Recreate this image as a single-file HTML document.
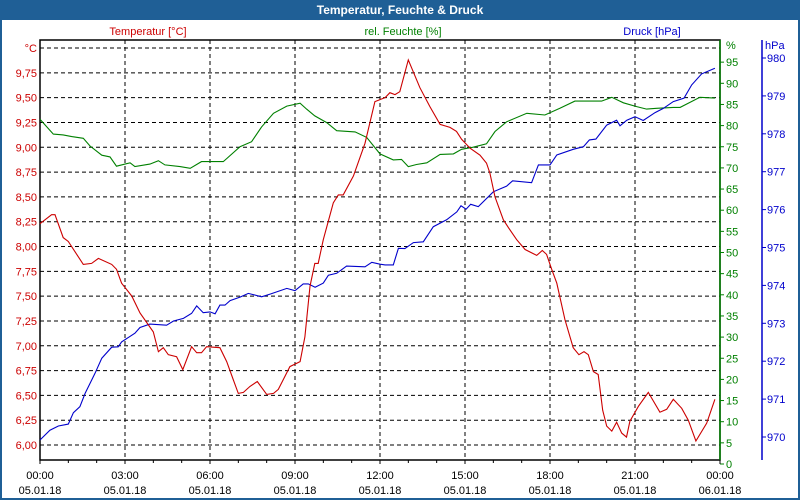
<!DOCTYPE html>
<html><head><meta charset="utf-8"><style>
body{margin:0;width:800px;height:500px;overflow:hidden;background:#fff;font-family:"Liberation Sans",sans-serif}
svg{display:block}
</style></head><body>
<svg id="chart" width="800" height="500" viewBox="0 0 800 500" xmlns="http://www.w3.org/2000/svg" font-family="Liberation Sans, sans-serif" font-size="11">
<rect x="1" y="1" width="798" height="498" fill="#fff" stroke="#1f5f96" stroke-width="2"/>
<rect x="0" y="0" width="800" height="20" fill="#1f5f96"/>
<text x="400" y="14" text-anchor="middle" fill="#fff" font-weight="bold" font-size="12">Temperatur, Feuchte &amp; Druck</text>
<text x="148" y="35" text-anchor="middle" fill="#cc0000">Temperatur [°C]</text>
<text x="403" y="35" text-anchor="middle" fill="#008000">rel. Feuchte [%]</text>
<text x="652" y="35" text-anchor="middle" fill="#0000cc">Druck [hPa]</text>
<g id="grid"></g>
<g id="axes"></g>
<g id="series"></g>
</svg>
<script>
const hours=[0,0.41,0.53,0.82,1.0,1.53,1.82,2.06,2.53,2.7,2.88,3.24,3.53,4.0,4.18,4.35,4.53,4.82,5.04,5.35,5.53,5.7,5.88,6.35,6.59,6.82,7.0,7.18,7.41,7.67,8.0,8.24,8.41,8.82,9.18,9.35,9.53,9.7,9.82,10.0,10.35,10.53,10.7,11.06,11.47,11.82,12.0,12.18,12.35,12.53,12.7,13.0,13.41,13.76,14.12,14.47,14.7,14.88,15.18,15.53,15.76,15.88,16.06,16.35,16.53,16.82,17.12,17.53,17.73,17.88,18.06,18.24,18.53,18.82,19.02,19.2,19.35,19.53,19.7,19.86,20.0,20.18,20.35,20.53,20.7,20.82,21.12,21.47,21.88,22.12,22.35,22.65,22.88,23.15,23.53,23.82];
const temperature=[8.23,8.32,8.32,8.09,8.05,7.82,7.83,7.88,7.82,7.77,7.63,7.50,7.33,7.14,6.94,6.98,6.91,6.89,6.76,6.99,6.93,6.93,6.99,6.98,6.84,6.66,6.52,6.53,6.59,6.64,6.51,6.52,6.56,6.79,6.84,7.09,7.60,7.83,7.83,8.07,8.44,8.52,8.52,8.71,9.04,9.46,9.48,9.50,9.55,9.53,9.56,9.88,9.60,9.41,9.23,9.20,9.16,9.08,8.99,8.92,8.84,8.74,8.50,8.27,8.19,8.07,7.97,7.91,7.96,7.92,7.77,7.63,7.26,6.98,6.91,6.94,6.91,6.74,6.71,6.35,6.19,6.14,6.23,6.12,6.08,6.24,6.39,6.53,6.33,6.36,6.46,6.37,6.25,6.04,6.22,6.46];
const humHours=[0,0.47,0.82,1.12,1.53,1.76,2.18,2.47,2.7,3.18,3.35,3.88,4.18,4.41,4.94,5.3,5.7,6.47,7.06,7.47,7.82,8.24,8.71,9.18,9.41,9.7,10.12,10.47,11.12,11.53,12.0,12.47,12.76,13.0,13.29,13.65,14.12,14.59,14.88,15.29,15.76,16.06,16.47,17.18,17.82,18.35,18.88,19.82,20.18,20.59,21.06,21.41,21.76,22.35,22.59,23.29,23.82];
const humidity=[81.5,78.0,77.8,77.4,77.0,75.2,73.0,72.6,70.4,71.2,70.3,70.9,71.7,70.7,70.3,69.9,71.5,71.5,75.0,76.2,79.7,82.9,84.6,85.3,83.9,82.3,80.7,78.8,78.5,77.2,73.3,71.9,72.0,70.3,70.8,71.2,73.2,73.3,74.4,74.9,75.7,78.6,80.9,82.9,82.5,84.1,85.8,85.8,86.7,85.4,84.5,83.9,84.1,84.3,84.3,86.7,86.5];
const presHours=[0,0.35,0.65,1.0,1.18,1.41,1.59,1.94,2.18,2.53,2.76,2.88,3.35,3.53,3.88,4.47,4.71,5.06,5.35,5.53,5.76,6.0,6.18,6.35,6.53,6.71,7.06,7.35,7.82,8.12,8.71,9.0,9.29,9.47,9.71,10.0,10.18,10.47,10.82,11.47,11.71,12.0,12.18,12.47,12.65,12.88,13.18,13.53,13.88,14.35,14.71,14.86,15.04,15.2,15.47,16.0,16.47,16.68,17.35,17.59,18.0,18.24,18.82,19.18,19.39,19.62,20.0,20.35,20.47,20.71,21.0,21.29,21.71,22.0,22.35,22.73,23.0,23.35,23.82];
const pressure=[969.92,970.18,970.29,970.34,970.64,970.80,971.15,971.68,972.08,972.37,972.38,972.51,972.74,972.89,972.98,972.95,973.06,973.13,973.26,973.46,973.28,973.30,973.25,973.48,973.48,973.60,973.69,973.79,973.70,973.77,973.92,973.86,974.04,974.04,973.95,974.06,974.27,974.32,974.51,974.49,974.61,974.56,974.54,974.54,974.98,974.97,975.13,975.15,975.55,975.73,975.94,976.10,976.01,976.14,976.08,976.47,976.62,976.76,976.71,977.18,977.18,977.44,977.59,977.66,977.84,977.86,978.23,978.36,978.21,978.36,978.45,978.35,978.56,978.67,978.85,978.94,979.29,979.58,979.73,979.97];
const tempTicks=["6,00","6,25","6,50","6,75","7,00","7,25","7,50","7,75","8,00","8,25","8,50","8,75","9,00","9,25","9,50","9,75"];
const humTicks=[0,5,10,15,20,25,30,35,40,45,50,55,60,65,70,75,80,85,90,95];
const presTicks=[970,971,972,973,974,975,976,977,978,979,980];
const timeLabels=["00:00","03:00","06:00","09:00","12:00","15:00","18:00","21:00","00:00"];
const dateLabels=["05.01.18","05.01.18","05.01.18","05.01.18","05.01.18","05.01.18","05.01.18","05.01.18","06.01.18"];

const NS="http://www.w3.org/2000/svg";
const L=40,R=720,T=40,B=460;
const xS=h=>L+h*(R-L)/24;
const yT=v=>445-(v-6)*99.25;
const yH=v=>464-v*4.23;
const yP=v=>58-(v-980)*37.9;
function mk(tag,attrs,parent){const e=document.createElementNS(NS,tag);for(const k in attrs)e.setAttribute(k,attrs[k]);parent.appendChild(e);return e;}
const grid=document.getElementById('grid'),axes=document.getElementById('axes'),series=document.getElementById('series');
// horizontal gridlines (temperature)
for(let i=0;i<=16;i++){const y=yT(6+i*0.25);
const g=mk('line',{x1:L,x2:R,y1:y,y2:y,stroke:'#000','stroke-dasharray':'4,3','stroke-width':1},grid);

}
for(let i=1;i<8;i++){const x=xS(i*3);
const g=mk('line',{x1:x,x2:x,y1:T,y2:B,stroke:'#000','stroke-dasharray':'4,3','stroke-width':1},grid);

}
const fr=mk('rect',{x:L,y:T,width:R-L,height:B-T,fill:'none',stroke:'#000','stroke-width':1.5},axes);


const g2=mk('line',{x1:R,x2:R,y1:T,y2:B,stroke:'#008000','stroke-width':1.5},axes);


const pl=mk('line',{x1:762,x2:762,y1:T,y2:B,stroke:'#0000cc','stroke-width':1.5},axes);


tempTicks.forEach((t,i)=>{const e=mk('text',{x:37,y:yT(6+i*0.25)+4,'text-anchor':'end',fill:'#cc0000'},axes);e.textContent=t;

});
const tu=mk('text',{x:37,y:yT(10)+4,'text-anchor':'end',fill:'#cc0000'},axes);tu.textContent='°C';


humTicks.forEach(v=>{const y=yH(v);mk('line',{x1:R,x2:R+4,y1:y,y2:y,stroke:'#008000'},axes);
const e=mk('text',{x:726,y:y+4,fill:'#008000'},axes);e.textContent=v;

});
const hu=mk('text',{x:726,y:49,fill:'#008000'},axes);hu.textContent='%';


presTicks.forEach(v=>{const y=yP(v);mk('line',{x1:762,x2:766,y1:y,y2:y,stroke:'#0000cc'},axes);
const e=mk('text',{x:767,y:y+4,fill:'#0000cc'},axes);e.textContent=v;

});
const pu=mk('text',{x:765,y:49,fill:'#0000cc'},axes);pu.textContent='hPa';


for(let h=0;h<=24;h++){const x=xS(h);mk('line',{x1:x,x2:x,y1:B,y2:B+(h%3===0?4:3),stroke:'#000'},axes);}
timeLabels.forEach((t,i)=>{const x=xS(i*3);
const a=mk('text',{x:x,y:479,'text-anchor':'middle',fill:'#000'},axes);a.textContent=t;


const b=mk('text',{x:x,y:494,'text-anchor':'middle',fill:'#000'},axes);b.textContent=dateLabels[i];

});
function line(xs,ys,f,color,name){const d=xs.map((h,i)=>(i?'L':'M')+xS(h).toFixed(1)+','+f(ys[i]).toFixed(1)).join('');
const p=mk('path',{d:d,fill:'none',stroke:color,'stroke-width':1.1},series);

}
line(humHours,humidity,yH,'#008000','humidity-line');
line(presHours,pressure,yP,'#0000cc','pressure-line');
line(hours,temperature,yT,'#cc0000','temperature-line');
</script>
</body></html>
